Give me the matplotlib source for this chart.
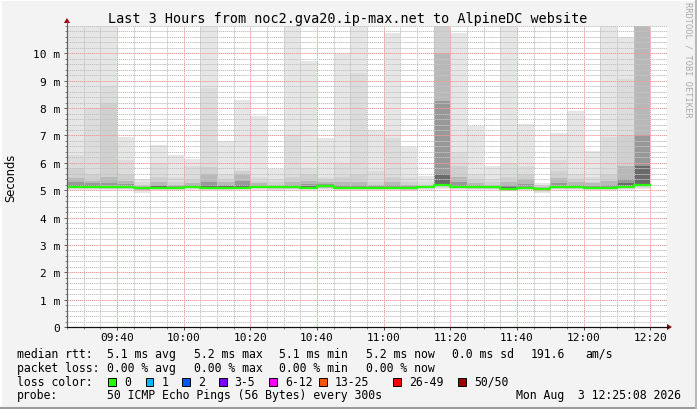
import matplotlib
matplotlib.use("Agg")
import matplotlib.pyplot as plt
import matplotlib.dates as mdates
from matplotlib.lines import Line2D
from matplotlib.patches import Polygon, Rectangle
from matplotlib.ticker import MultipleLocator
import numpy as np
import pandas as pd

W, H = 697, 410
MONO = "DejaVu Sans Mono"

# 5 minute steps, first one starts 09:25
times = pd.date_range("2026-08-03 09:25", periods=35, freq="5min")

# smoke: sorted ping levels for every step (ms), 12 = off the top of the graph
p_max = [12, 12, 12, 6.96, 5.42, 6.64, 6.29, 6.13, 12, 6.78, 8.28, 7.71,
         5.77, 12, 9.72, 6.92, 9.98, 12, 7.2, 10.75, 6.56, 5.52, 12, 10.75,
         7.35, 5.89, 12, 7.41, 5.26, 7.08, 7.9, 6.43, 12, 10.6, 12]
p_90 = [6.3, 8.0, 8.8, 6.1, 5.3, 6.0, 5.5, 5.9, 8.75, 5.6, 5.75, 5.5,
        5.4, 7.0, 5.8, 5.5, 6.0, 9.3, 5.7, 6.9, 5.5, 5.3, 12, 6.38,
        5.6, 5.4, 6.0, 5.9, 5.2, 6.1, 5.6, 5.5, 6.93, 9.05, 12]
p_80 = [5.8, 5.6, 8.2, 5.6, 5.2, 5.5, 5.3, 5.4, 5.85, 5.4, 5.7, 5.35,
        5.3, 5.5, 5.6, 5.4, 5.5, 5.6, 5.3, 5.5, 5.3, 5.2, 12, 5.9,
        5.4, 5.3, 5.5, 5.6, 5.15, 5.7, 5.4, 5.3, 5.6, 7.0, 12]
p_70 = [5.45, 5.35, 5.5, 5.35, 5.15, 5.3, 5.2, 5.25, 5.6, 5.3, 5.6, 5.25,
        5.2, 5.3, 5.35, 5.3, 5.3, 5.3, 5.2, 5.3, 5.2, 5.15, 10.0, 5.5,
        5.25, 5.2, 5.3, 5.4, 5.1, 5.45, 5.3, 5.25, 5.35, 5.9, 12]
p_60 = [5.3, 5.25, 5.25, 5.22, 5.12, 5.2, 5.16, 5.18, 5.3, 5.2, 5.35, 5.2,
        5.16, 5.2, 5.22, 5.22, 5.18, 5.18, 5.15, 5.18, 5.15, 5.13, 8.26, 5.3,
        5.18, 5.15, 5.18, 5.22, 5.08, 5.25, 5.2, 5.16, 5.2, 5.4, 7.0]
p_55 = [5.2, 5.18, 5.16, 5.15, 5.1, 5.14, 5.12, 5.15, 5.18, 5.14, 5.2, 5.15,
        5.13, 5.15, 5.14, 5.17, 5.12, 5.12, 5.1, 5.12, 5.1, 5.12, 5.58, 5.2,
        5.13, 5.12, 5.1, 5.12, 5.07, 5.15, 5.14, 5.11, 5.12, 5.25, 5.9]
p_min = [5.0, 5.0, 5.0, 5.0, 4.9, 5.0, 5.0, 5.02, 5.0, 5.0, 5.0, 5.02,
         4.98, 5.0, 5.0, 5.02, 4.98, 4.98, 4.98, 5.0, 4.96, 5.02, 5.05, 5.02,
         5.0, 5.0, 4.98, 5.0, 4.9, 5.0, 5.0, 5.0, 5.0, 5.02, 5.05]
median_rtt = [5.13, 5.13, 5.1, 5.1, 5.08, 5.08, 5.08, 5.13, 5.08, 5.08, 5.09, 5.12,
              5.12, 5.12, 5.09, 5.14, 5.07, 5.07, 5.07, 5.07, 5.07, 5.12, 5.2, 5.12,
              5.1, 5.1, 5.05, 5.08, 5.05, 5.1, 5.1, 5.08, 5.08, 5.12, 5.2]

y_ticks = [0, 1, 2, 3, 4, 5, 6, 7, 8, 9, 10]
y_labels = ["0", "1 m", "2 m", "3 m", "4 m", "5 m", "6 m", "7 m", "8 m", "9 m", "10 m"]

title = "Last 3 Hours from noc2.gva20.ip-max.net to AlpineDC website"

loss_labels = ["0", "1", "2", "3-5", "6-12", "13-25", "26-49", "50/50"]
loss_colors = ["#26ff00", "#00b8ff", "#0059ff", "#7e00ff", "#ff00ff",
               "#ff5500", "#ff0000", "#a10000"]

band_colors = ["#e6e6e6", "#dcdcdc", "#d0d0d0", "#b8b8b8", "#989898", "#6a6a6a"]


def px(x, y):
    return x / W, 1 - y / H


fig = plt.figure(figsize=(W / 100, H / 100), dpi=100, facecolor="#f3f3f3")
ax = fig.add_axes([67 / W, (H - 328) / H, 600 / W, 301 / H])
ax.set_facecolor("white")

x = mdates.date2num(times)
w = 5 / 1440
med = np.array(median_rtt)
lo = np.array(p_min)
uppers = [p_max, p_90, p_80, p_70, p_60, p_55]
lower_frac = [1.0, 0.7, 0.5, 0.35, 0.2, 0.1]
for hi, frac, c in zip(uppers, lower_frac, band_colors):
    bot = med - (med - lo) * frac
    ax.bar(x, np.array(hi) - bot, bottom=bot, width=w, align="edge",
           color=c, linewidth=0, zorder=1)

# median line, green = 0 loss
xs = np.append(x, x[-1] + w)
ys = np.append(med, med[-1])
ax.step(xs, ys, where="post", color="#26ff00", lw=1.6, zorder=3)

ax.set_xlim(x[0], x[0] + 180 / 1440)
ax.set_ylim(0, 11)

ax.xaxis.set_major_locator(mdates.MinuteLocator(byminute=[0, 20, 40]))
ax.xaxis.set_minor_locator(mdates.MinuteLocator(byminute=range(0, 60, 5)))
ax.xaxis.set_major_formatter(mdates.DateFormatter("%H:%M"))
ax.set_yticks(y_ticks)
ax.set_yticklabels(y_labels)
ax.yaxis.set_minor_locator(MultipleLocator(0.2))

ax.set_axisbelow(False)
ax.grid(which="minor", color="#c4c4c4", ls=(0, (1.4, 0.7)), lw=0.7)
ax.grid(which="major", color="#f29a9a", ls=(0, (1.4, 0.7)), lw=0.7)

for s in ["top", "right"]:
    ax.spines[s].set_visible(False)
ax.spines["left"].set_color("#606060")
ax.spines["left"].set_linewidth(0.8)
ax.spines["bottom"].set_color("#101010")
ax.spines["bottom"].set_linewidth(0.8)

ax.tick_params(axis="y", which="major", length=2.5, width=0.7, color="#606060",
               pad=2.5, labelsize=8)
ax.tick_params(axis="y", which="minor", length=1.5, width=0.7, color="#808080")
ax.tick_params(axis="x", which="major", length=2, width=0.7, color="#404040",
               pad=1.5, labelsize=8)
ax.tick_params(axis="x", which="minor", length=1.5, width=0.7, color="#808080")
for lab in ax.get_xticklabels() + ax.get_yticklabels():
    lab.set_fontfamily(MONO)

# axis extensions with arrows
fig.add_artist(Line2D([px(67, 0)[0]] * 2, [px(0, 328)[1], px(0, 22)[1]],
                      transform=fig.transFigure, color="#606060", lw=0.8))
fig.add_artist(Line2D([px(67, 0)[0], px(668, 0)[0]], [px(0, 328)[1]] * 2,
                      transform=fig.transFigure, color="#101010", lw=0.8))
fig.add_artist(Polygon([px(64, 24), px(70, 24), px(67, 19)], closed=True,
                       transform=fig.transFigure, color="#8b0000", lw=0))
fig.add_artist(Polygon([px(667, 325), px(667, 331), px(672, 328)], closed=True,
                       transform=fig.transFigure, color="#8b0000", lw=0))

# title and labels
fig.text(*px(347.5, 19), title, ha="center", va="center", size=9.75, family=MONO)
fig.text(*px(10.5, 177.5), "Seconds", rotation=90, ha="center", va="center",
         size=8.3, family="DejaVu Sans")
fig.text(*px(688, 60), "RRDTOOL / TOBI OETIKER", rotation=270, ha="center",
         va="center", size=6.2, family=MONO, color="#aaaaaa")

# legend block
fs = 8.3
rows = [
    (354.3, [(16.7, "median rtt:"), (107.3, "5.1 ms avg"), (194, "5.2 ms max"),
             (279.3, "5.1 ms min"), (366, "5.2 ms now"), (452, "0.0 ms sd"),
             (530.7, "191.6"), (585.7, "am/s")]),
    (368.3, [(16.7, "packet loss:"), (107.3, "0.00 % avg"), (194, "0.00 % max"),
             (279.3, "0.00 % min"), (366, "0.00 % now")]),
    (382.3, [(16.7, "loss color:")]),
    (396.0, [(16.7, "probe:"), (107.3, "50 ICMP Echo Pings (56 Bytes) every 300s")]),
]
for y, items in rows:
    for xx, t in items:
        fig.text(*px(xx, y), t, ha="left", va="center", size=fs, family=MONO)

fig.text(*px(681, 396), "Mon Aug  3 12:25:08 2026", ha="right", va="center",
         size=fs, family=MONO)

box_x = [108.3, 145.7, 182.3, 219, 269.3, 319.3, 393.3, 458.3]
for bx, lab, col in zip(box_x, loss_labels, loss_colors):
    fig.add_artist(Rectangle(px(bx, 386.5), 7.5 / W, 7.5 / H, transform=fig.transFigure,
                             facecolor=col, edgecolor="black", lw=0.7))
    fig.text(*px(bx + 15.5, 382.3), lab, ha="left", va="center", size=fs, family=MONO)

# 3d frame of the canvas
fig.add_artist(Line2D([0, 1], [px(0, 0.5)[1]] * 2, transform=fig.transFigure,
                      color="white", lw=1.4))
fig.add_artist(Line2D([px(0.5, 0)[0]] * 2, [0, 1], transform=fig.transFigure,
                      color="white", lw=1.4))
fig.add_artist(Line2D([0, 1], [px(0, 408.5)[1]] * 2, transform=fig.transFigure,
                      color="#9c9c9c", lw=2.2))
fig.add_artist(Line2D([px(695.5, 0)[0]] * 2, [0, 1], transform=fig.transFigure,
                      color="#b8b8b8", lw=2.2))

fig.savefig("out.png", dpi=100, facecolor=fig.get_facecolor())
